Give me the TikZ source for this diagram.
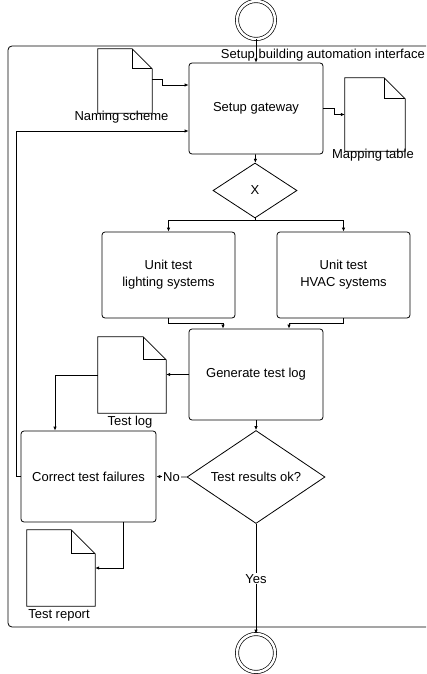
\documentclass[tikz,border=0pt]{standalone}
\usepackage{fontspec}
\setmainfont{Liberation Sans}
\usetikzlibrary{arrows.meta,shapes.geometric}

% outline of a data object: sheet with a folded top-right corner
\newcommand{\DocOutline}[2][22]{%
  \draw[docline] (#2.north west) -- ([xshift=-#1pt]#2.north east)
    -- ([yshift=-#1pt]#2.north east) -- (#2.south east)
    -- (#2.south west) -- cycle;
  \draw[docline] ([xshift=-#1pt]#2.north east) -- ([xshift=-#1pt,yshift=-#1pt]#2.north east)
    -- ([yshift=-#1pt]#2.north east);
}

\begin{document}
\begin{tikzpicture}[x=1pt,y=-1pt,
  every node/.style={font=\fontsize{13}{17}\selectfont, inner sep=1pt},
  task/.style={draw, line width=0.8pt, rounded corners=3pt, align=center,
    minimum width=134pt, minimum height=91pt},
  gate/.style={draw, line width=0.8pt, diamond, aspect=1.5, inner sep=0pt},
  docline/.style={line width=0.8pt, line join=miter},
  evt/.style={circle, draw, double, double distance=2.5pt, line width=0.7pt,
    minimum size=38pt, inner sep=0pt},
  flow/.style={line width=0.8pt, -{Latex[length=4pt,width=3.5pt]}},
  tag/.style={fill=white, inner sep=1pt}
]
\useasboundingbox (0,0) rectangle (426,674);

% lane around the subprocess, open to the right
\draw[line width=0.8pt, rounded corners=4pt] (426,46) -- (8,46) -- (8,627) -- (426,627);
\node[anchor=east] (lanelabel) at (426,55) {Setup building automation interface};

% events
\node[evt] (start) at (256,20) {};
\node[evt] (stop) at (256,653) {};

% tasks
\node[task] (gateway) at (256,108.5) {Setup gateway};
\node[task, minimum width=133pt, minimum height=86pt] (lighting) at (168.5,275) {Unit test\\lighting systems};
\node[task, minimum width=133pt, minimum height=86pt] (hvac) at (343.5,275) {Unit test\\HVAC systems};
\node[task] (genlog) at (256,374.5) {Generate test log};
\node[task, minimum width=135pt] (correct) at (88.5,476.5) {Correct test failures};

% gateways
\node[gate, minimum width=84pt, minimum height=55pt] (xor) at (255,190.5) {X};
\node[gate, minimum width=138pt, minimum height=93pt] (check) at (256,477) {Test results ok?};

% data objects
\node[minimum width=54pt, minimum height=64pt, inner sep=0pt] (naming) at (125,81) {};
\node[minimum width=60pt, minimum height=73pt, inner sep=0pt] (mapping) at (375,114.5) {};
\node[minimum width=68pt, minimum height=76pt, inner sep=0pt] (testlog) at (132,375) {};
\node[minimum width=68pt, minimum height=76pt, inner sep=0pt] (report) at (61,568) {};
\DocOutline[20]{naming}
\DocOutline[21]{mapping}
\DocOutline[23]{testlog}
\DocOutline[24]{report}
\node (naminglabel) at (121.5,117) {Naming scheme};
\node (mappinglabel) at (373,155) {Mapping table};
\node (testloglabel) at (130,422) {Test log};
\node (reportlabel) at (59,615) {Test report};

% sequence flows
\draw[flow] (start) -- (gateway);
\draw[flow] ([yshift=2pt]naming.east) -- ++(10,0) |- ([yshift=23.5pt]gateway.west);
\draw[flow] (gateway.east) -- ++(11,0) |- (mapping.west);
\draw[flow] (gateway) -- (xor);
\draw[flow] (xor.south) -- ++(0,2) -| (lighting.north);
\draw[flow] (xor.south) -- ++(0,2) -| (hvac.north);
\draw[flow] (lighting.south) -- ++(0,5) -| ([xshift=-33pt]genlog.north);
\draw[flow] (hvac.south) -- ++(0,5) -| ([xshift=33pt]genlog.north);
\draw[flow] (genlog.west) -- (testlog.east |- genlog.west);
\draw[flow] (testlog.west) -| ([xshift=-33.5pt]correct.north);
\draw[flow] (genlog) -- (check);
\draw[flow] (check.west) -- node[tag] {No} (correct.east);
\draw[flow] (check.south) -- node[tag] {Yes} (stop);
\draw[flow] (correct.west) -- ++(-4,0) |- ([yshift=-22.5pt]gateway.west);
\draw[flow] ([xshift=34.5pt]correct.south) |- (report.east);
\end{tikzpicture}
\end{document}
